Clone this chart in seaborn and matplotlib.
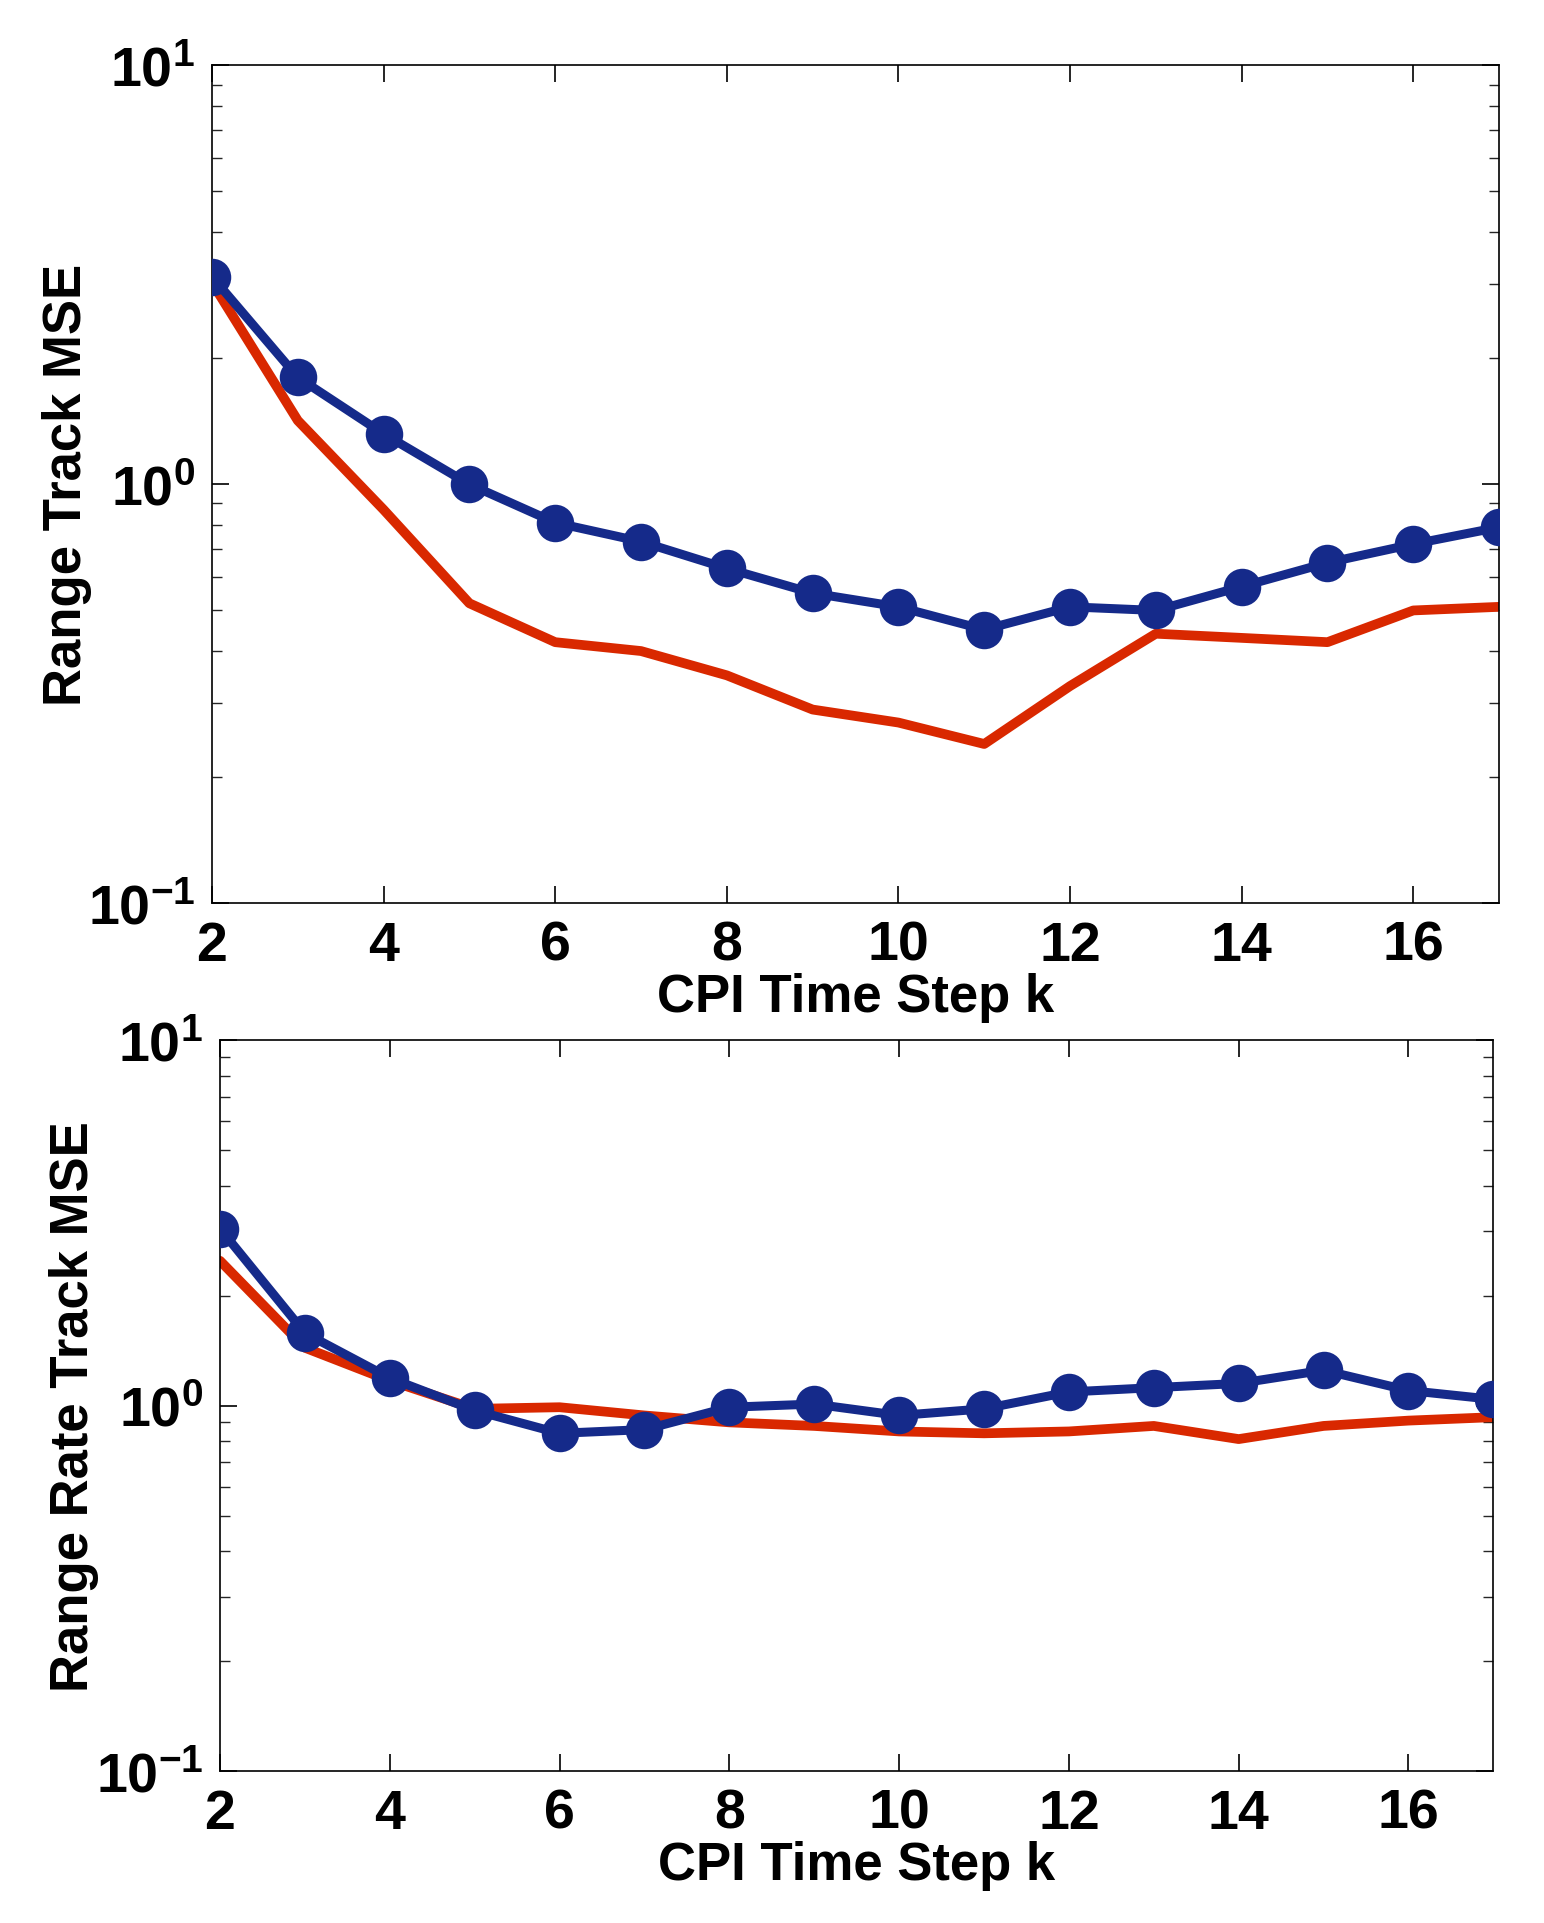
import numpy as np
import pandas as pd
import seaborn as sns
import matplotlib
matplotlib.use('Agg')
import matplotlib.pyplot as plt
from matplotlib.ticker import LogLocator, NullFormatter

k = list(range(2, 18))

# range track MSE
range_blue = [3.13, 1.80, 1.32, 1.00, 0.81, 0.73, 0.63, 0.55, 0.51, 0.45, 0.51, 0.50, 0.57, 0.65, 0.72, 0.79]
range_red = [3.03, 1.42, 0.87, 0.52, 0.42, 0.40, 0.35, 0.29, 0.27, 0.24, 0.33, 0.44, 0.43, 0.42, 0.50, 0.51]

# range rate track MSE
rate_blue = [3.05, 1.58, 1.19, 0.97, 0.84, 0.86, 0.99, 1.01, 0.94, 0.98, 1.09, 1.12, 1.15, 1.25, 1.10, 1.04]
rate_red = [2.49, 1.44, 1.17, 0.98, 0.99, 0.94, 0.90, 0.88, 0.85, 0.84, 0.85, 0.88, 0.81, 0.88, 0.91, 0.93]

xticks = [2, 4, 6, 8, 10, 12, 14, 16]
yticks = [0.1, 1, 10]
ytick_labels = [r'$\mathbf{10^{-1}}$', r'$\mathbf{10^{0}}$', r'$\mathbf{10^{1}}$']

blue = '#152a8a'
red = '#d92800'

sns.set_theme(style='ticks')
plt.rcParams['font.family'] = ['Liberation Sans', 'DejaVu Sans']
plt.rcParams['font.weight'] = 'bold'
plt.rcParams['text.color'] = 'black'
plt.rcParams['axes.labelcolor'] = 'black'
plt.rcParams['mathtext.fontset'] = 'custom'
plt.rcParams['mathtext.rm'] = 'Liberation Sans:bold'
plt.rcParams['mathtext.bf'] = 'Liberation Sans:bold'

fig = plt.figure(figsize=(15.44, 19.24), dpi=100)
ax1 = fig.add_axes([0.1373, 0.530, 0.8336, 0.4355])
ax2 = fig.add_axes([0.1425, 0.0789, 0.8247, 0.380])

panels = [
    (ax1, range_red, range_blue, 'Range Track MSE', -0.093),
    (ax2, rate_red, rate_blue, 'Range Rate Track MSE', -0.095),
]

for ax, red_vals, blue_vals, ylab, ylab_x in panels:
    df = pd.DataFrame({'k': k, 'red': red_vals, 'blue': blue_vals})
    sns.lineplot(data=df, x='k', y='red', ax=ax, color=red, lw=7, zorder=2)
    sns.lineplot(data=df, x='k', y='blue', ax=ax, color=blue, lw=6.5,
                 marker='o', markersize=27, markeredgewidth=0, zorder=3)
    ax.set_yscale('log')
    ax.set_xlim(2, 17)
    ax.set_ylim(0.1, 10)
    ax.set_xticks(xticks)
    ax.set_xticklabels([str(t) for t in xticks], fontsize=40, fontweight='bold')
    ax.set_yticks(yticks)
    ax.set_yticklabels(ytick_labels, fontsize=40)
    ax.yaxis.set_minor_locator(LogLocator(base=10, subs=np.arange(2, 10)))
    ax.yaxis.set_minor_formatter(NullFormatter())
    ax.tick_params(which='major', direction='in', length=12, width=1.2,
                   top=True, right=True, pad=12, colors='black')
    ax.tick_params(which='minor', direction='in', length=7, width=1.0,
                   left=True, right=True)
    for sp in ax.spines.values():
        sp.set_linewidth(1.2)
        sp.set_color('black')
    ax.set_xlabel('CPI Time Step k', fontsize=38, fontweight='bold', labelpad=0)
    ax.set_ylabel(ylab, fontsize=38, fontweight='bold')
    ax.yaxis.set_label_coords(ylab_x, 0.5)
    ax.set_facecolor('white')

fig.savefig('out.png', dpi=100, facecolor='white')
